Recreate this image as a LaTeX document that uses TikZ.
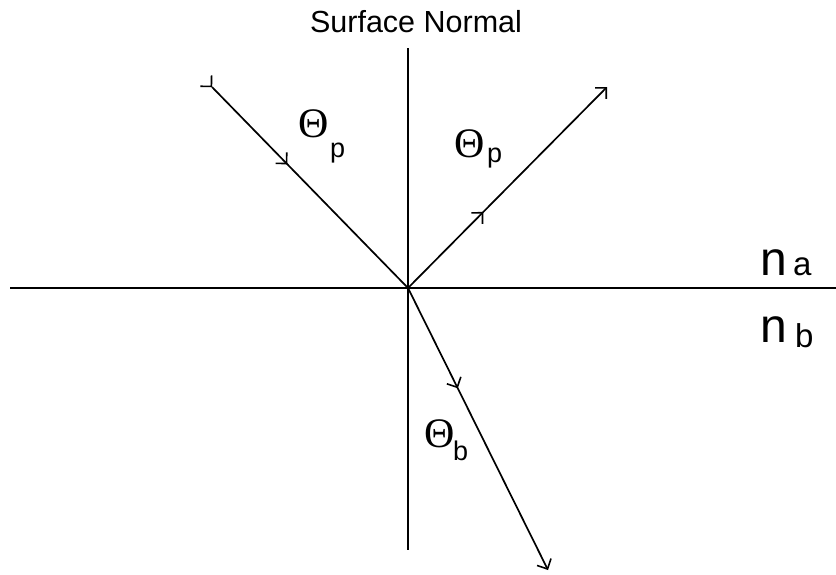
\documentclass[tikz,border=0pt]{standalone}
\usepackage{fontspec}
\setmainfont{Liberation Sans}
\newfontfamily\thetafont{Liberation Serif}
\usetikzlibrary{arrows.meta,decorations.markings}
\tikzset{
  barb/.tip={Straight Barb[length=7.8pt,width=15.6pt,line width=1.6pt]},
  ray/.style={line width=1.7pt},
  midarrow/.style={postaction={decorate,decoration={markings,
      mark=at position #1 with {\arrow{barb}}}}},
  startarrow/.style={postaction={decorate,decoration={markings,
      mark=at position 0.3pt with {\arrow{barb}}}}},
  lbl/.style={inner sep=0pt,anchor=base west},
  thetalbl/.style={lbl,font=\thetafont\fontsize{42}{42}\selectfont},
  sublbl/.style={lbl,font=\fontsize{27}{27}\selectfont},
  nlbl/.style={lbl,font=\fontsize{48}{48}\selectfont},
  nsub/.style={lbl,font=\fontsize{33}{33}\selectfont},
}
\begin{document}
\begin{tikzpicture}[x=1pt,y=-1pt]
\useasboundingbox (0,0) rectangle (836,574);
% points
\coordinate (O) at (408,288);
\coordinate (L) at (10,288);
\coordinate (Rt) at (836,288);
\coordinate (Ntop) at (408,48);
\coordinate (Nbot) at (408,550);
\coordinate (A) at (212,87);
\coordinate (R) at (607,87);
\coordinate (T) at (548,570);
% boundary and normal
\draw[line width=2.8pt] (L) -- (Rt);
\draw[ray] (Ntop) -- (Nbot);
% rays
\draw[ray,startarrow,midarrow=108pt] (A) -- (O);
\draw[ray,midarrow=107pt,-{barb}] (O) -- (R);
\draw[ray,midarrow=112pt,-{barb}] (O) -- (T);
% labels
\node[anchor=base,inner sep=0pt,font=\fontsize{30.5}{30.5}\selectfont] (sn) at (416,32) {Surface Normal};
\node[thetalbl] (t1) at (298,137) {Θ};
\node[sublbl] (p1) at (330,157) {p};
\node[thetalbl] (t2) at (454,157) {Θ};
\node[sublbl] (p2) at (487,162) {p};
\node[thetalbl] (t3) at (424,447) {Θ};
\node[sublbl] (b3) at (453,460) {b};
\node[nlbl] (na) at (760,275) {n};
\node[nsub] (a) at (793,275) {a};
\node[nlbl] (nb) at (760,342) {n};
\node[nsub] (b) at (795,347) {b};
\end{tikzpicture}
\end{document}
